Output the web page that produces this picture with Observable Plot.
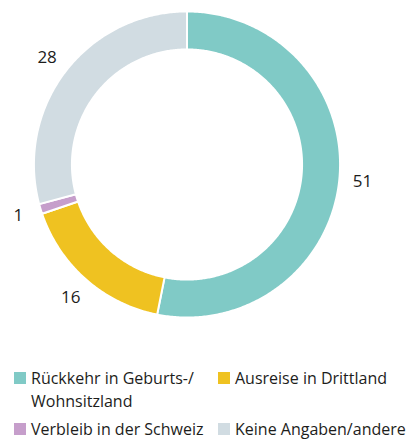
<!DOCTYPE html>
<html>
<head>
<meta charset="utf-8">
<script src="https://cdn.jsdelivr.net/npm/d3@7"></script>
<script src="https://cdn.jsdelivr.net/npm/@observablehq/plot@0.6"></script>
<style>
  html, body { margin: 0; padding: 0; background: #fff; }
  body { width: 406px; height: 440px; overflow: hidden; font-family: "Open Sans", sans-serif; color: #1d1d1b; }
  #chart svg { display: block; }
  .legend { position: relative; height: 105px; font-size: 16px; line-height: 23px; }
  .item { position: absolute; display: flex; align-items: flex-start; }
  .sw { width: 12px; height: 12px; margin-right: 5px; margin-top: 5px; flex: none; }
</style>
</head>
<body>
<div id="chart"></div>
<div class="legend" id="legend"></div>
<script>
const categories = ["Rückkehr in Geburts-/ Wohnsitzland", "Ausreise in Drittland", "Verbleib in der Schweiz", "Keine Angaben/andere"];
const values = [51, 16, 1, 28];
const colors = ["#80cac6", "#efc221", "#c69ecb", "#d1dce2"];

const data = categories.map((c, i) => ({cat: c, value: values[i]}));
const arcs = d3.pie().sort(null).value(d => d.value)(data);

const R0 = 1.007, R1 = 0.757;
const pts = [];
for (const a of arcs) {
  const n = Math.max(4, Math.ceil((a.endAngle - a.startAngle) / 0.01));
  for (let k = 0; k <= n; k++) {
    const t = a.startAngle + (a.endAngle - a.startAngle) * k / n;
    pts.push({cat: a.data.cat, x: R0 * Math.sin(t), y: R0 * Math.cos(t)});
  }
  for (let k = n; k >= 0; k--) {
    const t = a.startAngle + (a.endAngle - a.startAngle) * k / n;
    pts.push({cat: a.data.cat, x: R1 * Math.sin(t), y: R1 * Math.cos(t)});
  }
}
const LR = 1.16;
const labels = arcs.map(a => {
  const m = (a.startAngle + a.endAngle) / 2;
  return {text: String(a.data.value), x: LR * Math.sin(m), y: LR * Math.cos(m)};
});

const chart = Plot.plot({
  width: 406, height: 335,
  marginLeft: 34.5, marginRight: 67.5, marginTop: 12, marginBottom: 19,
  x: {domain: [-1, 1], axis: null},
  y: {domain: [-1, 1], axis: null},
  color: {domain: categories, range: colors},
  style: {fontFamily: "Open Sans, sans-serif"},
  marks: [
    Plot.line(pts, {x: "x", y: "y", z: "cat", fill: "cat", stroke: "white", strokeWidth: 2, curve: "linear-closed"}),
    Plot.text(labels, {x: "x", y: "y", text: "text", fontSize: 17, fill: "#1d1d1b"})
  ]
});
document.getElementById("chart").appendChild(chart);

const pos = [[14, 32], [218, 32], [14, 83], [218, 83]];
const leg = document.getElementById("legend");
categories.forEach((c, i) => {
  const it = document.createElement("div");
  it.className = "item";
  it.style.left = pos[i][0] + "px";
  it.style.top = pos[i][1] + "px";
  if (i === 0) it.style.width = "190px";
  const sw = document.createElement("div");
  sw.className = "sw";
  sw.style.background = colors[i];
  const tx = document.createElement("div");
  tx.textContent = c;
  it.appendChild(sw); it.appendChild(tx);
  leg.appendChild(it);
});
</script>
</body>
</html>
